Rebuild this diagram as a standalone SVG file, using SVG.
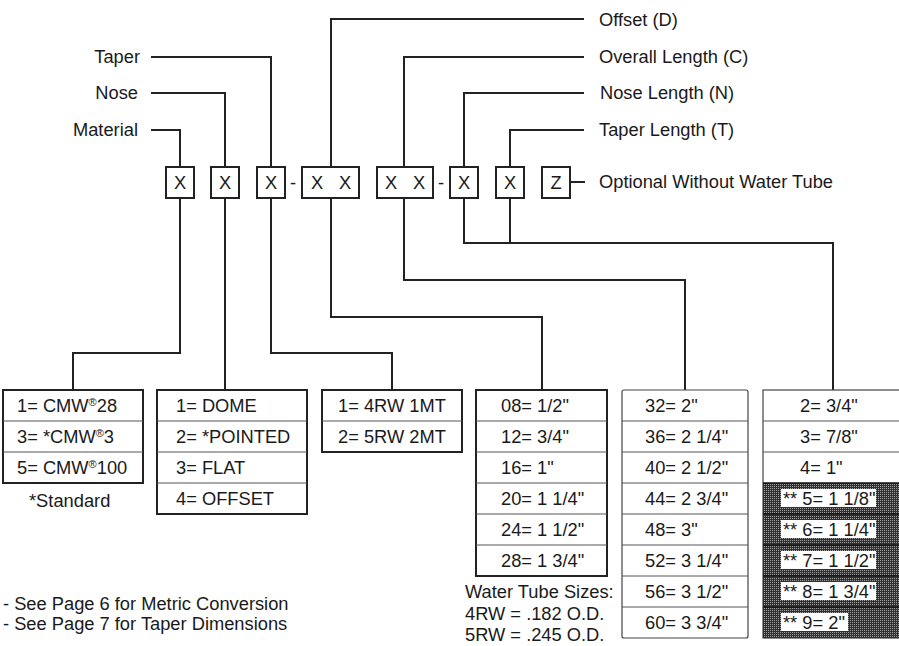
<svg xmlns="http://www.w3.org/2000/svg" width="899" height="646" viewBox="0 0 899 646">
<defs>
<style>
.t{font-family:"Liberation Sans",Arial,Helvetica,sans-serif;font-size:18.3px;fill:#1a1a1a}
.c{text-anchor:middle}
.e{text-anchor:end}
.box{fill:#fff;stroke:#222;stroke-width:2}
.conn{fill:none;stroke:#222;stroke-width:2}
.tbl{fill:#fff;stroke:#222;stroke-width:2}
.tbl2{fill:#fff;stroke:#444;stroke-width:1.2}
.row{stroke:#555;stroke-width:1}
.drow{stroke:#111;stroke-width:1.5}
.lbl{fill:#fff}
.sup{font-size:11px}
</style>
<pattern id="dith" width="2" height="2" patternUnits="userSpaceOnUse">
<rect width="2" height="2" fill="#303030"/>
<rect width="1" height="1" fill="#a0a0a0"/>
</pattern>
</defs>
<rect width="899" height="646" fill="#fff"/>

<g id="connectors">
<path class="conn" d="M151,130 H180 V167"/>
<path class="conn" d="M151,93 H225 V167"/>
<path class="conn" d="M151,57 H271 V167"/>
<path class="conn" d="M331,167 V19 H584"/>
<path class="conn" d="M404,167 V57 H584"/>
<path class="conn" d="M464,167 V93 H584"/>
<path class="conn" d="M510,167 V130 H584"/>
<path class="conn" d="M570,182 H585"/>
<path class="conn" d="M180,198 V353 H73 V390"/>
<path class="conn" d="M225,198 V390"/>
<path class="conn" d="M271,198 V353 H392 V390"/>
<path class="conn" d="M331,198 V317 H542 V390"/>
<path class="conn" d="M404,198 V280 H685 V390"/>
<path class="conn" d="M464,198 V243 H833 V390"/>
<path class="conn" d="M510,198 V243"/>
</g>

<g id="label-taper"><text class="t e" x="140" y="63">Taper</text></g>
<g id="label-nose"><text class="t e" x="138" y="99">Nose</text></g>
<g id="label-material"><text class="t e" x="138" y="136">Material</text></g>
<g id="label-offset"><text class="t" x="599" y="26">Offset (D)</text></g>
<g id="label-overall"><text class="t" x="599" y="63">Overall Length (C)</text></g>
<g id="label-noselength"><text class="t" x="600" y="99">Nose Length (N)</text></g>
<g id="label-taperlength"><text class="t" x="599" y="136">Taper Length (T)</text></g>
<g id="label-optional"><text class="t" x="599" y="188">Optional Without Water Tube</text></g>

<g id="box-material"><rect class="box" x="166" y="167" width="28" height="31"/><text class="t c" x="180" y="189">X</text></g>
<g id="box-nose"><rect class="box" x="211" y="167" width="28" height="31"/><text class="t c" x="225" y="189">X</text></g>
<g id="box-taper"><rect class="box" x="257" y="167" width="28" height="31"/><text class="t c" x="271" y="189">X</text></g>
<g id="dash1"><text class="t c" x="293" y="189">-</text></g>
<g id="box-offset"><rect class="box" x="302" y="167" width="57" height="31"/><text class="t c" x="317" y="189">X</text><text class="t c" x="345" y="189">X</text></g>
<g id="box-overall"><rect class="box" x="377" y="167" width="56" height="31"/><text class="t c" x="391" y="189">X</text><text class="t c" x="419" y="189">X</text></g>
<g id="dash2"><text class="t c" x="441" y="189">-</text></g>
<g id="box-noselength"><rect class="box" x="450" y="167" width="28" height="31"/><text class="t c" x="464" y="189">X</text></g>
<g id="box-taperlength"><rect class="box" x="496" y="167" width="28" height="31"/><text class="t c" x="510" y="189">X</text></g>
<g id="box-z"><rect class="box" x="542" y="167" width="28" height="31"/><text class="t c" x="556" y="189">Z</text></g>

<g id="table-material">
<rect class="tbl" x="3" y="390" width="140" height="93"/>
<line class="row" x1="3" y1="421" x2="143" y2="421"/>
<line class="row" x1="3" y1="452" x2="143" y2="452"/>
<text class="t" x="17" y="412">1= CMW<tspan class="sup" dy="-6">®</tspan><tspan dy="6">28</tspan></text>
<text class="t" x="17" y="443">3= *CMW<tspan class="sup" dy="-6">®</tspan><tspan dy="6">3</tspan></text>
<text class="t" x="17" y="474">5= CMW<tspan class="sup" dy="-6">®</tspan><tspan dy="6">100</tspan></text>
<text class="t" x="29" y="507">*Standard</text>
</g>

<g id="table-nose">
<rect class="tbl" x="157" y="390" width="150" height="124"/>
<line class="row" x1="157" y1="421" x2="307" y2="421"/>
<line class="row" x1="157" y1="452" x2="307" y2="452"/>
<line class="row" x1="157" y1="483" x2="307" y2="483"/>
<text class="t" x="176" y="412">1= DOME</text>
<text class="t" x="176" y="443">2= *POINTED</text>
<text class="t" x="176" y="474">3= FLAT</text>
<text class="t" x="176" y="505">4= OFFSET</text>
</g>

<g id="table-taper">
<rect class="tbl" x="322" y="390" width="140" height="62"/>
<line class="row" x1="322" y1="421" x2="462" y2="421"/>
<text class="t" x="338" y="412">1= 4RW 1MT</text>
<text class="t" x="338" y="443">2= 5RW 2MT</text>
</g>

<g id="table-offset">
<rect class="tbl" x="476" y="390" width="131" height="186"/>
<line class="row" x1="476" y1="421" x2="607" y2="421"/>
<line class="row" x1="476" y1="452" x2="607" y2="452"/>
<line class="row" x1="476" y1="483" x2="607" y2="483"/>
<line class="row" x1="476" y1="514" x2="607" y2="514"/>
<line class="row" x1="476" y1="545" x2="607" y2="545"/>
<text class="t" x="501" y="412">08= 1/2"</text>
<text class="t" x="501" y="443">12= 3/4"</text>
<text class="t" x="501" y="474">16= 1"</text>
<text class="t" x="501" y="505">20= 1 1/4"</text>
<text class="t" x="501" y="536">24= 1 1/2"</text>
<text class="t" x="501" y="567">28= 1 3/4"</text>
</g>

<g id="water-tube">
<text class="t" x="465" y="598">Water Tube Sizes:</text>
<text class="t" x="465" y="620">4RW = .182 O.D.</text>
<text class="t" x="465" y="641">5RW = .245 O.D.</text>
</g>

<g id="table-overall">
<rect class="tbl2" x="622" y="390" width="126" height="248" rx="2"/>
<line class="row" x1="622" y1="421" x2="748" y2="421"/>
<line class="row" x1="622" y1="452" x2="748" y2="452"/>
<line class="row" x1="622" y1="483" x2="748" y2="483"/>
<line class="row" x1="622" y1="514" x2="748" y2="514"/>
<line class="row" x1="622" y1="545" x2="748" y2="545"/>
<line class="row" x1="622" y1="576" x2="748" y2="576"/>
<line class="row" x1="622" y1="607" x2="748" y2="607"/>
<text class="t" x="645" y="412">32= 2"</text>
<text class="t" x="645" y="443">36= 2 1/4"</text>
<text class="t" x="645" y="474">40= 2 1/2"</text>
<text class="t" x="645" y="505">44= 2 3/4"</text>
<text class="t" x="645" y="536">48= 3"</text>
<text class="t" x="645" y="567">52= 3 1/4"</text>
<text class="t" x="645" y="598">56= 3 1/2"</text>
<text class="t" x="645" y="629">60= 3 3/4"</text>
</g>

<g id="table-length">
<rect class="tbl2" x="763" y="390" width="145" height="248"/>
<rect x="763" y="483" width="145" height="155" fill="url(#dith)"/>
<line class="row" x1="763" y1="421" x2="905" y2="421"/>
<line class="row" x1="763" y1="452" x2="905" y2="452"/>
<line class="drow" x1="763" y1="483" x2="905" y2="483"/>
<line class="drow" x1="763" y1="514" x2="905" y2="514"/>
<line class="drow" x1="763" y1="545" x2="905" y2="545"/>
<line class="drow" x1="763" y1="576" x2="905" y2="576"/>
<line class="drow" x1="763" y1="607" x2="905" y2="607"/>
<text class="t" x="800" y="412">2= 3/4"</text>
<text class="t" x="800" y="443">3= 7/8"</text>
<text class="t" x="800" y="474">4= 1"</text>
<rect class="lbl" x="781" y="489" width="95" height="18"/>
<rect class="lbl" x="781" y="520" width="95" height="18"/>
<rect class="lbl" x="781" y="551" width="95" height="18"/>
<rect class="lbl" x="781" y="582" width="95" height="18"/>
<rect class="lbl" x="781" y="613" width="67" height="18"/>
<text class="t" x="783" y="505">** 5= 1 1/8"</text>
<text class="t" x="783" y="536">** 6= 1 1/4"</text>
<text class="t" x="783" y="567">** 7= 1 1/2"</text>
<text class="t" x="783" y="598">** 8= 1 3/4"</text>
<text class="t" x="783" y="629">** 9= 2"</text>
</g>

<g id="notes">
<text class="t" x="3" y="610">- See Page 6 for Metric Conversion</text>
<text class="t" x="3" y="630">- See Page 7 for Taper Dimensions</text>
</g>
</svg>
